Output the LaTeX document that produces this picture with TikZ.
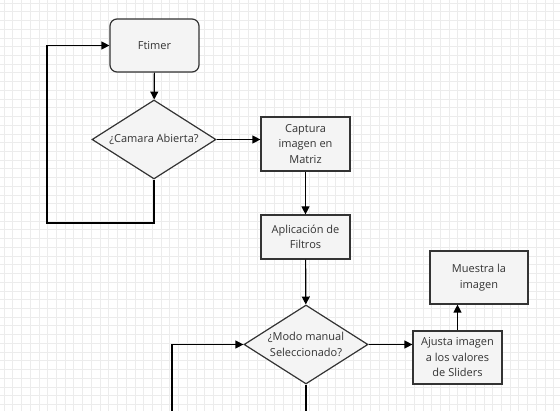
\documentclass[tikz,border=0pt]{standalone}
\usepackage{fontspec}
\setmainfont{Open Sans}
\usetikzlibrary{shapes.geometric,arrows.meta}

\definecolor{boxfill}{HTML}{F4F4F4}
\definecolor{boxline}{HTML}{333333}
\definecolor{gridline}{HTML}{ECECEC}

\tikzset{
  proc/.style={draw=boxline, fill=boxfill, line width=1.2pt, minimum width=89pt,
    minimum height=53pt, align=center, inner sep=2pt, text=boxline,
    font=\fontsize{11}{15.5}\selectfont},
  decision/.style={proc, diamond, minimum width=124pt, minimum height=79pt,
    aspect=1.57, inner sep=0pt},
  flow/.style={line width=1.2pt, -{Triangle[length=8pt,width=8pt]}}
}

\begin{document}
\begin{tikzpicture}[x=1pt,y=-1pt]
  \useasboundingbox (0,0) rectangle (560,411);
  \fill[white] (0,0) rectangle (560,411);

  % background grid
  \foreach \k in {0,...,64} {
    \draw[gridline, line width=0.8pt] ({4+8.727*\k},0) -- ({4+8.727*\k},411);
  }
  \foreach \k in {0,...,47} {
    \draw[gridline, line width=0.8pt] (0,{3+8.727*\k}) -- (560,{3+8.727*\k});
  }

  \node[proc, rounded corners=7pt] (ftimer) at (154.5,45.5) {Ftimer};
  \node[decision] (camara) at (154,139.5) {¿Camara Abierta?};
  \node[proc, minimum height=54pt] (captura) at (305.5,144) {Captura\\imagen en\\Matriz};
  \node[proc, minimum height=44pt] (filtros) at (305.5,237) {Aplicación de\\Filtros};
  \node[decision] (modo) at (306,344.5) {¿Modo manual\\Seleccionado?};
  \node[proc] (ajusta) at (457.5,357.5) {Ajusta imagen\\a los valores\\de Sliders};
  \node[proc, minimum width=98pt] (muestra) at (479,277.5) {Muestra la\\imagen};

  \coordinate (loopA) at (47,223);
  \coordinate (loopB) at (172,411);

  \draw[flow] (ftimer) -- (camara);
  \draw[flow] (camara.south) |- (loopA) |- (ftimer.west); % back to timer
  \draw[flow] (camara.east) -- (camara.east -| captura.west);
  \draw[flow] (captura) -- (filtros);
  \draw[flow] (filtros) -- (modo);
  \draw[flow] (modo.east) -- (modo.east -| ajusta.west);
  \draw[flow] (ajusta.north) -- (ajusta.north |- muestra.south);
  \draw[flow] (loopB) |- (modo.west);
  \draw[line width=1.2pt] (modo.south) -- (modo.south |- loopB);
\end{tikzpicture}
\end{document}
